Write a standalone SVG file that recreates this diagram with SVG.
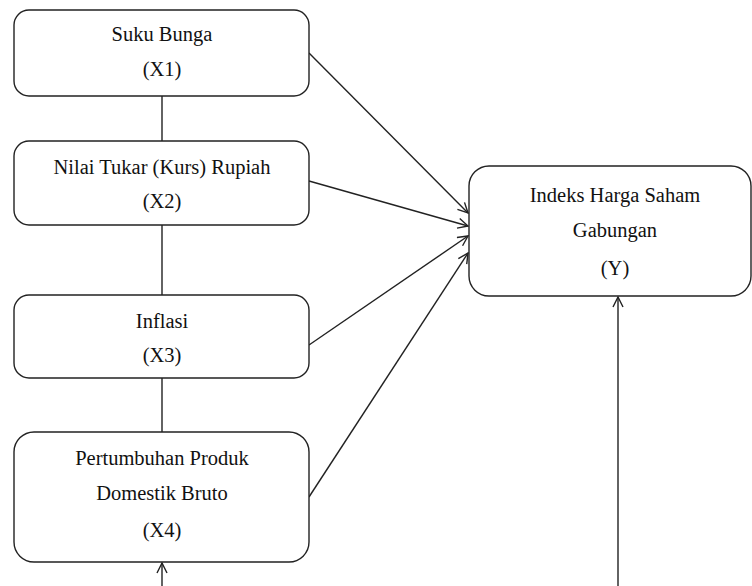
<svg xmlns="http://www.w3.org/2000/svg" width="752" height="586" viewBox="0 0 752 586">
<style>
.box{fill:#fff;stroke:#222;stroke-width:1.4}
.ln{fill:none;stroke:#222;stroke-width:1.4}
.t{font-family:'Liberation Serif','Times New Roman',serif;font-size:20.5px;fill:#111;text-anchor:middle}
</style>
<defs>
<marker id="arr" viewBox="0 0 12 12" refX="11" refY="6" markerWidth="12" markerHeight="12" markerUnits="userSpaceOnUse" orient="auto">
<path d="M1,1 L11,6 L1,11" fill="none" stroke="#222" stroke-width="1.4"/>
</marker>
</defs>
<rect width="752" height="586" fill="#fff"/>
<g id="connectors">
<line class="ln" x1="162" y1="96" x2="162" y2="141"/>
<line class="ln" x1="162" y1="225" x2="162" y2="295"/>
<line class="ln" x1="162" y1="378" x2="162" y2="432"/>
<line class="ln" x1="309" y1="53" x2="468" y2="213" marker-end="url(#arr)"/>
<line class="ln" x1="309" y1="181" x2="468" y2="226" marker-end="url(#arr)"/>
<line class="ln" x1="309" y1="345" x2="468" y2="236" marker-end="url(#arr)"/>
<line class="ln" x1="309" y1="497" x2="468" y2="253" marker-end="url(#arr)"/>
<line class="ln" x1="618" y1="586" x2="618" y2="297" marker-end="url(#arr)"/>
<line class="ln" x1="162" y1="586" x2="162" y2="563" marker-end="url(#arr)"/>
</g>
<g id="x1">
<rect class="box" x="14" y="10" width="295" height="86" rx="15"/>
<text class="t" x="162" y="41">Suku Bunga</text>
<text class="t" x="162" y="76">(X1)</text>
</g>
<g id="x2">
<rect class="box" x="14" y="141" width="295" height="84" rx="15"/>
<text class="t" x="162" y="174">Nilai Tukar (Kurs) Rupiah</text>
<text class="t" x="162" y="208">(X2)</text>
</g>
<g id="x3">
<rect class="box" x="14" y="295" width="295" height="83" rx="15"/>
<text class="t" x="162" y="328">Inflasi</text>
<text class="t" x="162" y="362">(X3)</text>
</g>
<g id="x4">
<rect class="box" x="14" y="432" width="295" height="130" rx="20"/>
<text class="t" x="162" y="465">Pertumbuhan Produk</text>
<text class="t" x="162" y="500">Domestik Bruto</text>
<text class="t" x="162" y="537">(X4)</text>
</g>
<g id="y">
<rect class="box" x="469" y="166" width="282" height="130" rx="20"/>
<text class="t" x="615" y="202">Indeks Harga Saham</text>
<text class="t" x="615" y="237">Gabungan</text>
<text class="t" x="615" y="275">(Y)</text>
</g>
</svg>
